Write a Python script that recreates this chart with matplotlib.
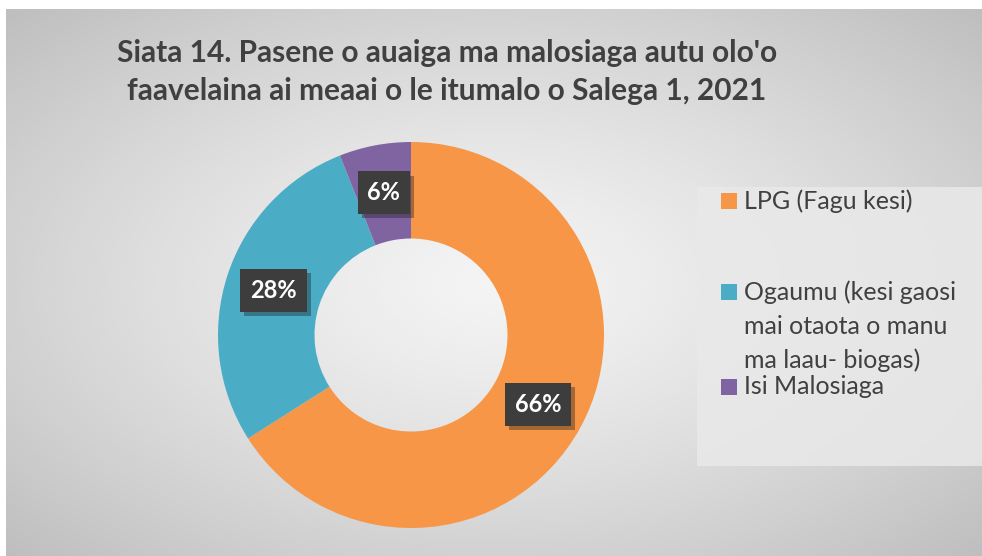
import numpy as np
from matplotlib import pyplot as plt
from matplotlib.patches import Rectangle
import matplotlib.patheffects as pe

plt.rcParams['font.family'] = ['Lato', 'DejaVu Sans']

labels = ["LPG (Fagu kesi)",
          "Ogaumu (kesi gaosi\nmai otaota o manu\nma laau- biogas)",
          "Isi Malosiaga"]
shares = [66, 28, 6]
colors = ["#F79646", "#4BACC6", "#8064A2"]

W, H = 982, 556
fig = plt.figure(figsize=(W / 100, H / 100), dpi=100)

# chart area background: radial grey gradient, with white margin strip
bg = fig.add_axes([6 / W, 0, 1 - 6 / W, 1 - 9 / H])
yy, xx = np.mgrid[0:1:300j, 0:1:500j]
d = np.sqrt(((xx - 0.5) / 0.5) ** 2 + ((yy - 0.5) / 0.5) ** 2) / np.sqrt(2)
shade = 0.955 - 0.21 * d ** 1.3
bg.imshow(shade, cmap="gray", vmin=0, vmax=1, aspect="auto",
          extent=[0, 1, 0, 1], interpolation="bicubic")
bg.set_axis_off()

# donut
cx, cy, r = 411, 335, 193
ax = fig.add_axes([(cx - r) / W, (H - cy - r) / H, 2 * r / W, 2 * r / H])
wedges, texts, autotexts = ax.pie(
    shares, colors=colors, startangle=90, counterclock=False, radius=1,
    wedgeprops=dict(width=0.5, edgecolor="none"),
    autopct=lambda p: f"{p:.0f}%", pctdistance=0.75,
    textprops=dict(color="white", fontsize=17, fontweight="bold"))
for t in autotexts:
    t.set_bbox(dict(boxstyle="square,pad=0.42", facecolor="#3d3d3d",
                    edgecolor="none"))
    t.get_bbox_patch().set_path_effects(
        [pe.SimplePatchShadow(offset=(3, -3), alpha=0.35), pe.Normal()])
ax.set_xlim(-1, 1)
ax.set_ylim(-1, 1)
ax.set_axis_off()

# title
fig.text(447 / W, 1 - 62 / H, "Siata 14. Pasene o auaiga ma malosiaga autu olo'o",
         ha="center", va="baseline", fontsize=21.5, fontweight="bold", color="#404040")
fig.text(447 / W, 1 - 100 / H, "faavelaina ai meaai o le itumalo o Salega 1, 2021",
         ha="center", va="baseline", fontsize=21.5, fontweight="bold", color="#404040")

# legend panel
fig.patches.append(Rectangle((697 / W, 1 - 466 / H), (W - 697) / W, (466 - 187) / H,
                             transform=fig.transFigure, facecolor="#e9e9e9",
                             edgecolor="none", alpha=0.85, zorder=1))
rows = [201, 292, 387]
for lab, col, y in zip(labels, colors, rows):
    fig.patches.append(Rectangle((721 / W, 1 - (y + 8) / H), 16 / W, 16 / H,
                                 transform=fig.transFigure, facecolor=col,
                                 edgecolor="none", zorder=2))
    for i, line in enumerate(lab.split("\n")):
        fig.text(744 / W, 1 - (y + 34 * i) / H, line, ha="left", va="center",
                 fontsize=18, color="#404040", zorder=3)

plt.savefig("out.png", dpi=100)
